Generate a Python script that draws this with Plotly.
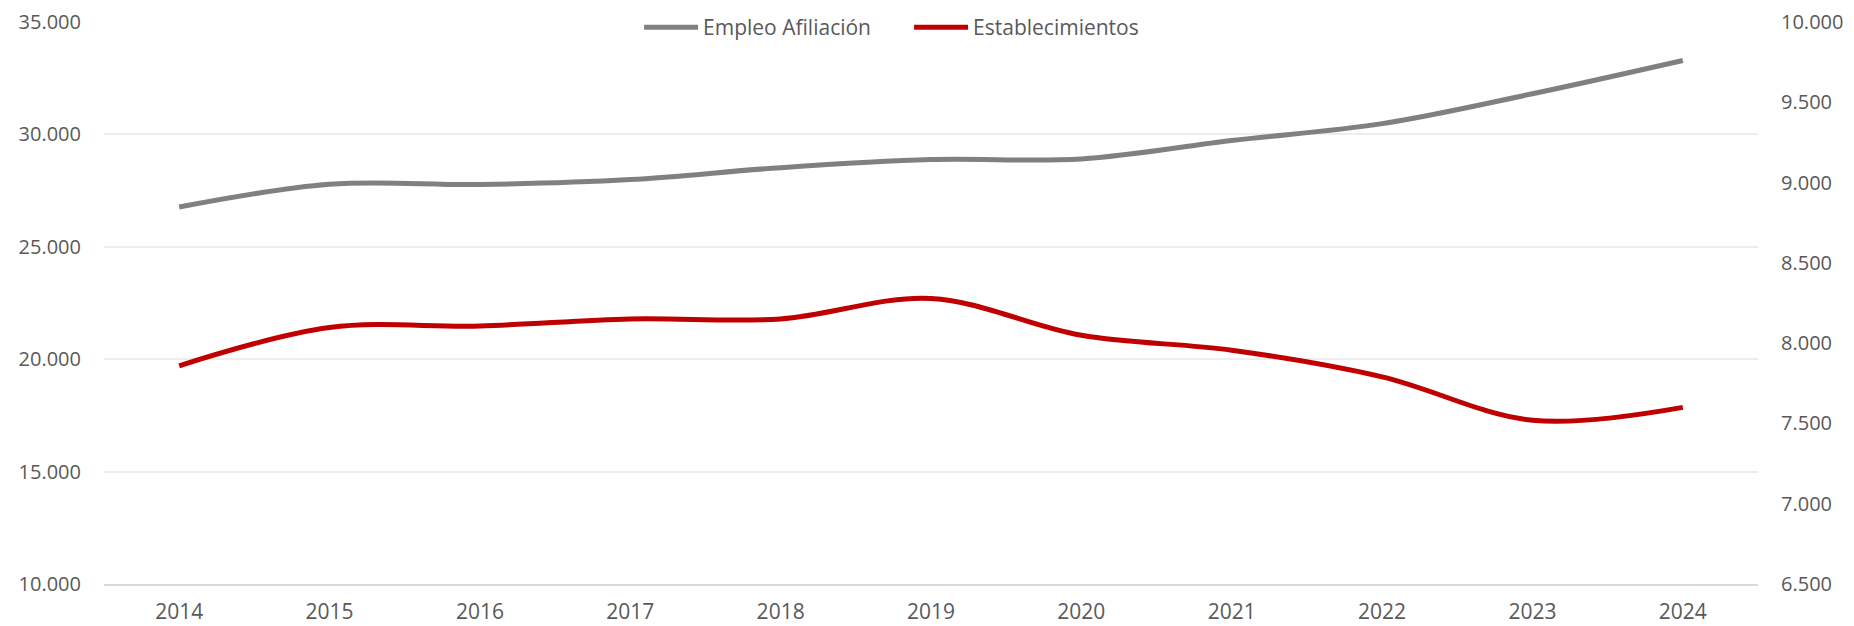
import plotly.graph_objects as go

years = ["2014", "2015", "2016", "2017", "2018", "2019", "2020", "2021", "2022", "2023", "2024"]
empleo_afiliacion = [26770, 27780, 27770, 27990, 28520, 28880, 28910, 29730, 30480, 31810, 33290]
establecimientos = [7859, 8097, 8107, 8151, 8151, 8278, 8049, 7956, 7790, 7520, 7600]

left_ticks = [10000, 15000, 20000, 25000, 30000, 35000]
right_ticks = [6500, 7000, 7500, 8000, 8500, 9000, 9500, 10000]

xpos = list(range(len(years)))
font_family = "Open Sans, Liberation Sans, sans-serif"
text_color = "#595959"

fig = go.Figure()
fig.add_trace(go.Scatter(
    x=xpos, y=empleo_afiliacion, name="Empleo Afiliación", mode="lines",
    line=dict(color="#808080", width=5, shape="spline", smoothing=1.0),
    yaxis="y"))
fig.add_trace(go.Scatter(
    x=xpos, y=establecimientos, name="Establecimientos", mode="lines",
    line=dict(color="#C00000", width=5, shape="spline", smoothing=1.0),
    yaxis="y2"))

fig.update_layout(
    width=1846, height=618,
    margin=dict(l=96, r=96, t=13.5, b=42, pad=0, autoexpand=False),
    paper_bgcolor="white", plot_bgcolor="white",
    separators=",.",
    font=dict(family=font_family, size=20, color=text_color),
    showlegend=True,
    legend=dict(orientation="h", x=0.3235, xanchor="left", y=0.99, yanchor="middle",
                yref="paper", bgcolor="rgba(0,0,0,0)",
                font=dict(family=font_family, size=21, color=text_color),
                itemwidth=54, entrywidth=201, entrywidthmode="pixels",
                traceorder="normal"),
    xaxis=dict(range=[-0.5, len(years) - 0.5], tickmode="array", tickvals=xpos,
               ticktext=years, showgrid=False, zeroline=False,
               showline=True, linecolor="#D9D9D9", linewidth=1.5,
               ticks="", ticklabelstandoff=8,
               tickfont=dict(family=font_family, size=21, color=text_color)),
    yaxis=dict(range=[10000, 35000], tickmode="array", tickvals=left_ticks,
               tickformat=",d", showgrid=True, gridcolor="#EDEDED", gridwidth=1.5,
               zeroline=False, showline=False, ticks="", ticklabelstandoff=22,
               tickfont=dict(family=font_family, size=20, color=text_color)),
    yaxis2=dict(range=[6500, 10000], tickmode="array", tickvals=right_ticks,
                tickformat=",d", overlaying="y", side="right", showgrid=False,
                zeroline=False, showline=False, ticks="", ticklabelstandoff=22,
                tickfont=dict(family=font_family, size=20, color=text_color)),
)

fig.write_html("out.html")
